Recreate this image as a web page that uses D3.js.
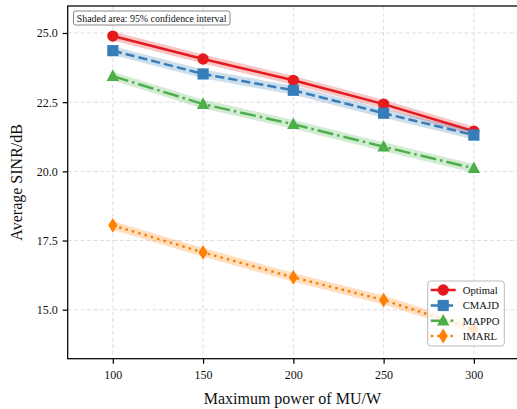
<!DOCTYPE html>
<html>
<head>
<meta charset="utf-8">
<script src="https://cdn.jsdelivr.net/npm/d3@7"></script>
<style>
  html, body { margin: 0; padding: 0; background: #fff; }
  svg { display: block; font-family: "Liberation Serif", "Times New Roman", serif; }
</style>
</head>
<body>
<svg id="chart" width="517" height="409"></svg>
<script>
// Maximum power of the mobile user (W)
const powers = [100, 150, 200, 250, 300];

// Average SINR (dB) per method
const optimal = [24.89, 24.06, 23.29, 22.43, 21.45];
const cmajd   = [24.36, 23.52, 22.93, 22.10, 21.31];
const mappo   = [23.44, 22.43, 21.70, 20.89, 20.11];
const imarl   = [18.05, 17.07, 16.17, 15.35, 14.30];

// Half-width of the 95% confidence interval (dB)
const ciOptimal = [0.16, 0.16, 0.16, 0.16, 0.16];
const ciCmajd   = [0.16, 0.16, 0.16, 0.16, 0.16];
const ciMappo   = [0.16, 0.16, 0.16, 0.16, 0.16];
const ciImarl   = [0.16, 0.16, 0.16, 0.16, 0.16];

const seriesNames = ["Optimal", "CMAJD", "MAPPO", "IMARL"];
const xTicks = [100, 150, 200, 250, 300];
const yTicks = [15.0, 17.5, 20.0, 22.5, 25.0];

const styles = [
  { color: "#e41a1c", dash: null,             marker: "circle"   },
  { color: "#377eb8", dash: "9.2,4",          marker: "square"   },
  { color: "#4daf4a", dash: "16,4,2.5,4",     marker: "triangle" },
  { color: "#ff7f00", dash: "2.5,4.1",        marker: "diamond"  }
];

const series = [
  { name: seriesNames[0], values: optimal, ci: ciOptimal },
  { name: seriesNames[1], values: cmajd,   ci: ciCmajd },
  { name: seriesNames[2], values: mappo,   ci: ciMappo },
  { name: seriesNames[3], values: imarl,   ci: ciImarl }
];

const svg = d3.select("#chart");
const plot = { left: 67.7, right: 519, top: 6, bottom: 358.7 };

const x = d3.scaleLinear().domain([75, 325]).range([plot.left, plot.right]);
const y = d3.scaleLinear().domain([13.23, 25.975]).range([plot.bottom, plot.top]);

// grid
const grid = svg.append("g");
grid.selectAll("line.gx").data(xTicks).join("line")
  .attr("x1", d => x(d)).attr("x2", d => x(d))
  .attr("y1", plot.top).attr("y2", plot.bottom)
  .attr("stroke", "#dadada").attr("stroke-width", 0.9).attr("stroke-dasharray", "4,2.5");
grid.selectAll("line.gy").data(yTicks).join("line")
  .attr("x1", plot.left).attr("x2", plot.right)
  .attr("y1", d => y(d)).attr("y2", d => y(d))
  .attr("stroke", "#dadada").attr("stroke-width", 0.9).attr("stroke-dasharray", "4,2.5");

// marker shapes
function markerPath(kind) {
  switch (kind) {
    case "circle":   return d3.symbol(d3.symbolCircle, 100)();
    case "square":   return "M-5.6,-5.6H5.6V5.6H-5.6Z";
    case "triangle": return "M0,-6.8L6.2,4.8H-6.2Z";
    case "diamond":  return "M0,-7.4L4.6,0L0,7.4L-4.6,0Z";
  }
}

const line = d3.line().x((d, i) => x(powers[i])).y(d => y(d));
const band = d3.area()
  .x((d, i) => x(powers[i]))
  .y0(d => y(d.v - d.c))
  .y1(d => y(d.v + d.c));

const marks = svg.append("g");
series.forEach((s, k) => {
  const st = styles[k];
  const g = marks.append("g");
  g.append("path")
    .attr("d", band(s.values.map((v, i) => ({ v, c: s.ci[i] }))))
    .attr("fill", st.color).attr("fill-opacity", 0.25).attr("stroke", "none");
  g.append("path")
    .attr("d", line(s.values))
    .attr("fill", "none").attr("stroke", st.color).attr("stroke-width", 2.5)
    .attr("stroke-dasharray", st.dash);
  g.selectAll("path.m").data(s.values).join("path")
    .attr("d", markerPath(st.marker))
    .attr("transform", (d, i) => `translate(${x(powers[i])},${y(d)})`)
    .attr("fill", st.color);
});

// spines
svg.append("rect")
  .attr("x", plot.left).attr("y", plot.top)
  .attr("width", plot.right - plot.left).attr("height", plot.bottom - plot.top)
  .attr("fill", "none").attr("stroke", "#000").attr("stroke-width", 1.25);

// axes
const xAxis = svg.append("g")
  .attr("transform", `translate(0,${plot.bottom})`)
  .call(d3.axisBottom(x).tickValues(xTicks).tickSize(5).tickPadding(5).tickFormat(d3.format("d")));
const yAxis = svg.append("g")
  .attr("transform", `translate(${plot.left},0)`)
  .call(d3.axisLeft(y).tickValues(yTicks).tickSize(5).tickPadding(5).tickFormat(d3.format(".1f")));
[xAxis, yAxis].forEach(a => {
  a.select(".domain").remove();
  a.selectAll(".tick line").attr("stroke", "#000").attr("stroke-width", 1.25);
  a.selectAll(".tick text")
    .attr("fill", "#111").style("font-size", "12px")
    .style("font-family", "'Liberation Serif', 'Times New Roman', serif");
});
xAxis.selectAll(".tick text").attr("dy", "0.85em");

// axis titles
svg.append("text")
  .attr("x", (plot.left + plot.right) / 2 - 1).attr("y", 404)
  .attr("text-anchor", "middle").style("font-size", "16px").attr("fill", "#111")
  .text("Maximum power of MU/W");
svg.append("text")
  .attr("transform", `translate(22,${(plot.top + plot.bottom) / 2}) rotate(-90)`)
  .attr("text-anchor", "middle").style("font-size", "16px").attr("fill", "#111")
  .text("Average SINR/dB");

// note box
const note = svg.append("g");
note.append("rect")
  .attr("x", 73.5).attr("y", 11).attr("width", 156.5).attr("height", 14)
  .attr("rx", 2).attr("fill", "#fff").attr("stroke", "#888").attr("stroke-width", 1);
note.append("text")
  .attr("x", 76.8).attr("y", 21.6)
  .style("font-size", "9.9px").attr("fill", "#111")
  .text("Shaded area: 95% confidence interval");

// legend
const lg = svg.append("g");
lg.append("rect")
  .attr("x", 427.7).attr("y", 281).attr("width", 76.6).attr("height", 65)
  .attr("rx", 3).attr("fill", "#fff").attr("fill-opacity", 0.8)
  .attr("stroke", "#bbb").attr("stroke-width", 1);
const rowY = [290, 305.5, 320.8, 336];
series.forEach((s, k) => {
  const st = styles[k];
  const g = lg.append("g").attr("transform", `translate(0,${rowY[k]})`);
  g.append("line")
    .attr("x1", 430.7).attr("x2", 455.7).attr("y1", 0).attr("y2", 0)
    .attr("stroke", st.color).attr("stroke-width", 2.5)
    .attr("stroke-dasharray", st.dash);
  g.append("path")
    .attr("d", markerPath(st.marker))
    .attr("transform", "translate(443.2,0)")
    .attr("fill", st.color);
  g.append("text")
    .attr("x", 462.7).attr("y", 0).attr("dy", "0.35em")
    .style("font-size", "10.7px").attr("fill", "#111")
    .text(s.name);
});
</script>
</body>
</html>
